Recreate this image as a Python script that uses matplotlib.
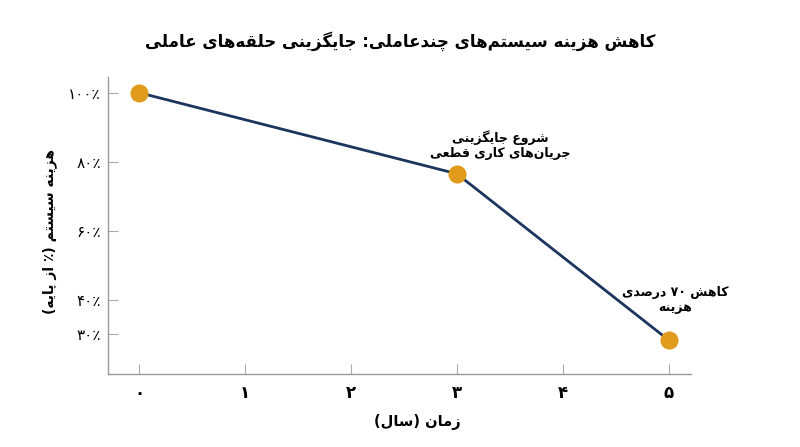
import re
import matplotlib
matplotlib.use("Agg")
import matplotlib.pyplot as plt

# data
years = [0, 3, 5]
cost_pct = [100, 76.5, 28.3]
xtick_vals = [0, 1, 2, 3, 4, 5]
xtick_text = ["۰", "۱", "۲", "۳", "۴", "۵"]
ytick_vals = [100, 80, 60, 40, 30]
ytick_text = ["۱۰۰٪", "۸۰٪", "۶۰٪", "۴۰٪", "۳۰٪"]

title_fa = "کاهش هزینه سیستم‌های چندعاملی: جایگزینی حلقه‌های عاملی"
xlabel_fa = "زمان (سال)"
ylabel_fa = "هزینه سیستم (٪ از پایه)"
note1 = ["شروع جایگزینی", "جریان‌های کاری قطعی"]
note2 = ["کاهش ۷۰ درصدی", "هزینه"]

# presentation forms: isolated, final, initial, medial
FORMS = {
    'ا': ('\uFE8D', '\uFE8E', None, None),
    'ب': ('\uFE8F', '\uFE90', '\uFE91', '\uFE92'),
    'پ': ('\uFB56', '\uFB57', '\uFB58', '\uFB59'),
    'ت': ('\uFE95', '\uFE96', '\uFE97', '\uFE98'),
    'ج': ('\uFE9D', '\uFE9E', '\uFE9F', '\uFEA0'),
    'چ': ('\uFB7A', '\uFB7B', '\uFB7C', '\uFB7D'),
    'ح': ('\uFEA1', '\uFEA2', '\uFEA3', '\uFEA4'),
    'د': ('\uFEA9', '\uFEAA', None, None),
    'ر': ('\uFEAD', '\uFEAE', None, None),
    'ز': ('\uFEAF', '\uFEB0', None, None),
    'س': ('\uFEB1', '\uFEB2', '\uFEB3', '\uFEB4'),
    'ش': ('\uFEB5', '\uFEB6', '\uFEB7', '\uFEB8'),
    'ص': ('\uFEB9', '\uFEBA', '\uFEBB', '\uFEBC'),
    'ط': ('\uFEC1', '\uFEC2', '\uFEC3', '\uFEC4'),
    'ع': ('\uFEC9', '\uFECA', '\uFECB', '\uFECC'),
    'ق': ('\uFED5', '\uFED6', '\uFED7', '\uFED8'),
    'ک': ('\uFB8E', '\uFB8F', '\uFB90', '\uFB91'),
    'گ': ('\uFB92', '\uFB93', '\uFB94', '\uFB95'),
    'ل': ('\uFEDD', '\uFEDE', '\uFEDF', '\uFEE0'),
    'م': ('\uFEE1', '\uFEE2', '\uFEE3', '\uFEE4'),
    'ن': ('\uFEE5', '\uFEE6', '\uFEE7', '\uFEE8'),
    'ه': ('\uFEE9', '\uFEEA', '\uFEEB', '\uFEEC'),
    'و': ('\uFEED', '\uFEEE', None, None),
    'ی': ('\uFBFC', '\uFBFD', '\uFBFE', '\uFBFF'),
}


def shape(s):
    """join letters, then put in visual (left to right) order"""
    out = []
    for i, c in enumerate(s):
        if c == '\u200c':
            continue
        if c not in FORMS:
            out.append(c)
            continue
        f = FORMS[c]
        prev = s[i - 1] if i > 0 else ''
        nxt = s[i + 1] if i + 1 < len(s) else ''
        jp = prev in FORMS and FORMS[prev][2] is not None
        jn = f[2] is not None and nxt in FORMS
        if jp and jn:
            out.append(f[3])
        elif jp:
            out.append(f[1])
        elif jn:
            out.append(f[2])
        else:
            out.append(f[0])
    s = ''.join(out)
    parts = re.split('([۰-۹]+٪?)', s)
    vis = []
    for p in parts:
        if re.fullmatch('[۰-۹]+٪?', p or 'x'):
            vis.append(p)
        else:
            r = p[::-1].translate(str.maketrans('()', ')('))
            vis.append(r)
    return ''.join(vis[::-1])


plt.rcParams['font.family'] = ['DejaVu Sans']

fig = plt.figure(figsize=(8, 4.47), dpi=100)
ax = fig.add_axes([0.135, 0.163, 0.729, 0.665])

ax.plot(years, cost_pct, color='#1c355e', lw=2, zorder=2)
ax.plot(years, cost_pct, 'o', color='#e09a1c', ms=12, zorder=3)

ax.set_xlim(-0.296, 5.214)
ax.set_ylim(18.4, 104.6)
ax.set_xticks(xtick_vals)
ax.set_xticklabels(xtick_text, fontsize=12, fontweight='bold')
ax.set_yticks(ytick_vals)
ax.set_yticklabels([shape(t) for t in ytick_text], fontsize=11)
ax.tick_params(direction='in', length=7, color='#aaaaaa')
ax.tick_params(axis='y', pad=5)
ax.tick_params(axis='x', pad=7)

for side in ['top', 'right']:
    ax.spines[side].set_visible(False)
for side in ['left', 'bottom']:
    ax.spines[side].set_color('#999999')
    ax.spines[side].set_linewidth(1)

ax.set_xlabel(shape(xlabel_fa), fontsize=10.5, fontweight='bold')
ax.xaxis.set_label_coords(0.53, -0.135)
ax.set_ylabel(shape(ylabel_fa), fontsize=10, fontweight='bold')
ax.yaxis.set_label_coords(-0.088, 0.48)
fig.suptitle(shape(title_fa), fontsize=12, fontweight='bold', y=0.93)

ax.annotate('\n'.join(shape(t) for t in note1), (years[1], cost_pct[1]),
            xytext=(31, 21), textcoords='offset points', ha='center', va='center',
            fontsize=9, fontweight='bold')
ax.annotate('\n'.join(shape(t) for t in note2), (years[2], cost_pct[2]),
            xytext=(5, 29), textcoords='offset points', ha='center', va='center',
            fontsize=9, fontweight='bold')

fig.savefig('out.png', dpi=100)
